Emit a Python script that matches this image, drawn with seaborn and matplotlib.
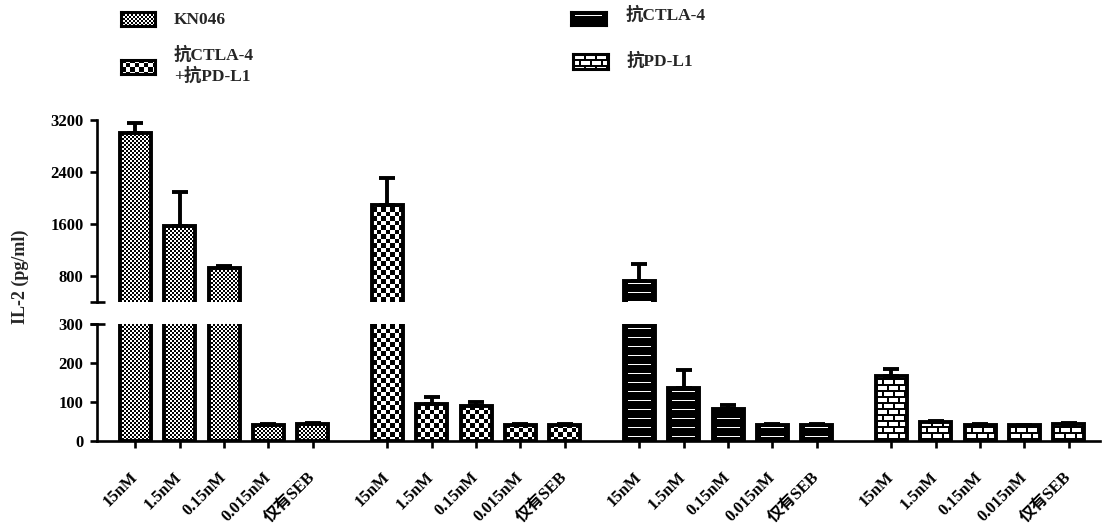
import numpy as np
import pandas as pd
import matplotlib
matplotlib.use("Agg")
import matplotlib.pyplot as plt
import seaborn as sns

sns.set_style("white")
plt.rcParams["font.family"] = ["Liberation Serif", "Noto Sans CJK SC"]
plt.rcParams["font.weight"] = "bold"

# ---- data -------------------------------------------------------------
treatments = ["KN046", "抗CTLA-4\n+抗PD-L1", "抗CTLA-4", "抗PD-L1"]
doses = ["15nM", "1.5nM", "0.15nM", "0.015nM", "仅有SEB"]

kn046_mean = [3000, 1570, 925, 42, 44]
kn046_sem = [150, 515, 25, 2, 2]
combo_mean = [1890, 94, 89, 42, 42]
combo_sem = [413, 18, 10, 2, 2]
ctla4_mean = [723, 137, 83, 40, 42]
ctla4_sem = [254, 45, 9, 3, 2]
pdl1_mean = [167, 49, 42, 40, 43]
pdl1_sem = [18, 3, 2, 2, 2]

y_top_ticks = [800, 1600, 2400, 3200]
y_bot_ticks = [0, 100, 200, 300]

# ---- layout -------------------------------------------------------------
GROUP_STEP = 5.676     # distance between the first bars of neighbouring groups
BAR_W = 0.70
TOP_LIM = (400, 3200)
BOT_LIM = (0, 300)
X_LIM = (-0.863, 21.73)
patterns = ["fine", "coarse", "lines", "brick"]

means = [kn046_mean, combo_mean, ctla4_mean, pdl1_mean]
sems = [kn046_sem, combo_sem, ctla4_sem, pdl1_sem]
rows = []
for g, (name, mm, ss) in enumerate(zip(treatments, means, sems)):
    for i, (d, m, s) in enumerate(zip(doses, mm, ss)):
        rows.append(dict(treatment=name, dose=d, il2=m, sem=s,
                         pos=round(g * GROUP_STEP + i, 4), pattern=patterns[g]))
df = pd.DataFrame(rows)


def texture(kind, h, w, phase=0):
    """Grey-level texture (0 black, 1 white), row 0 at the top."""
    yy, xx = np.mgrid[0:h, 0:w]
    if kind == "fine":
        img = ((xx // 2 + (yy + phase) // 2) % 2).astype(float)
    elif kind == "coarse":
        img = ((np.floor(xx / 4.5) + np.floor((yy + phase) / 4.5)) % 2).astype(float)
    elif kind == "lines":
        img = np.zeros((h, w))
        img[((yy + phase) % 9 == 4) & (xx >= 4) & (xx < w - 4)] = 1.0
    else:  # brick
        r = (yy + phase) // 6
        within = (yy + phase) % 6
        shift = np.where(r % 2 == 0, 0, 5)
        joint = ((xx + shift) % 11) < 2
        img = np.ones((h, w))
        img[(within < 2) | joint] = 0.0
    return img


W_PX, H_PX = 1105, 526


def px_axes(left, top, right, bottom):
    """Axes placed on whole-pixel edges (measured from the top-left corner)."""
    return fig.add_axes([left / W_PX, (H_PX - bottom) / H_PX,
                         (right - left) / W_PX, (bottom - top) / H_PX])


fig = plt.figure(figsize=(W_PX / 100, H_PX / 100), dpi=100, facecolor="white")
AX_BOXES = [(97, 120, 1100, 302), (97, 324, 1100, 441)]
ax_top = px_axes(*AX_BOXES[0])
ax_bot = px_axes(*AX_BOXES[1])

# texture layer for the whole figure, placed pixel for pixel behind the axes
layer = np.zeros((H_PX, W_PX, 4))

LW = 2.8
SPINE_LW = 1.9
for ax, lim, (l, t, r, b) in ((ax_top, TOP_LIM, AX_BOXES[0]),
                              (ax_bot, BOT_LIM, AX_BOXES[1])):
    sns.barplot(data=df, x="pos", y="il2", hue="treatment", hue_order=treatments,
                palette=["white"] * 4, native_scale=True, dodge=False,
                width=BAR_W, errorbar=None, legend=False, ax=ax,
                edgecolor="black", linewidth=LW)
    ax.set_xlim(*X_LIM)
    ax.set_ylim(*lim)
    ax.set_facecolor("none")

    for patch in list(ax.patches):
        x0, w, h = patch.get_x(), patch.get_width(), patch.get_height()
        cx = x0 + w / 2
        row = df.iloc[(df["pos"] - cx).abs().argmin()]
        patch.set_facecolor("none")
        patch.set_zorder(2)
        if h <= lim[0]:
            continue
        (px0, py_top), (px1, py_bot) = ax.transData.transform([(x0, h), (x0 + w, 0)])
        c0, c1 = max(l, int(round(px0))), min(r, int(round(px1)))
        r0 = max(t, int(round(H_PX - py_top)))
        r1 = min(b, int(round(H_PX - py_bot)))
        if r1 <= r0 or c1 <= c0:
            continue
        tex = texture(row["pattern"], r1 - r0, c1 - c0, phase=r0)
        layer[r0:r1, c0:c1, :3] = tex[..., None]
        layer[r0:r1, c0:c1, 3] = 1.0

    # upward SEM bars
    ax.errorbar(df["pos"], df["il2"], yerr=[np.zeros(len(df)), df["sem"]],
                fmt="none", ecolor="black", elinewidth=LW, capsize=5.5,
                capthick=LW, zorder=3)
    ax.set_xlim(*X_LIM)
    ax.set_ylim(*lim)
    ax.set_xlabel("")
    ax.set_ylabel("")
    for side in ("top", "right"):
        ax.spines[side].set_visible(False)
    ax.spines["left"].set_linewidth(SPINE_LW)
    ax.spines["left"].set_color("black")
    ax.tick_params(axis="y", direction="out", length=5.2, width=SPINE_LW,
                   labelsize=12, pad=4.5, colors="black", left=True)

fig.figimage(layer, xo=0, yo=0, origin="upper", zorder=-1)

ax_top.spines["bottom"].set_visible(False)
ax_top.set_xticks([])
ax_top.set_yticks(y_top_ticks)
ax_top.set_yticklabels([str(v) for v in y_top_ticks], fontweight="bold")

ax_bot.spines["bottom"].set_linewidth(SPINE_LW)
ax_bot.spines["bottom"].set_color("black")
ax_bot.set_yticks(y_bot_ticks)
ax_bot.set_yticklabels([str(v) for v in y_bot_ticks], fontweight="bold")
ax_bot.set_xticks(df["pos"])
ax_bot.set_xticklabels(df["dose"], rotation=45, ha="right", va="center",
                       rotation_mode="anchor", fontsize=12, fontweight="bold")
ax_bot.tick_params(axis="x", direction="out", length=5.2, width=SPINE_LW,
                   pad=19, colors="black", bottom=True)

# axis-break marks on the y axis
ax_px = 1003
for ax, yv in ((ax_top, 0), (ax_bot, 1)):
    ax.plot([-7 / ax_px, 8 / ax_px], [yv, yv], transform=ax.transAxes,
            color="black", lw=SPINE_LW, clip_on=False, solid_capstyle="butt")

fig.text(20 / W_PX, 1 - 277 / H_PX, "IL-2 (pg/ml)", rotation=90, ha="center",
         va="center", fontsize=13, fontweight="bold")

# legend: swatches drawn with the same textures as the bars
legend_items = [
    (treatments[0], "fine", (121, 12, 155, 26), (174, 19.5), 0),
    (treatments[1], "coarse", (121, 60, 155, 74), (174, 65.5), 2),
    (treatments[2], "lines", (571, 12, 606, 25), (626, 15), 1),
    (treatments[3], "brick", (573, 54, 608, 69), (627, 61), 1),
]
for label, kind, (l, t, r, b), (tx, ty), phase in legend_items:
    sax = px_axes(l, t, r, b)
    sax.imshow(texture(kind, b - t, r - l, phase), cmap="gray",
               vmin=0, vmax=1, interpolation="nearest", aspect="auto")
    sax.set_xticks([])
    sax.set_yticks([])
    for sp in sax.spines.values():
        sp.set_linewidth(2.2)
        sp.set_color("black")
    fig.text(tx / W_PX, 1 - ty / H_PX, label, ha="left", va="center",
             fontsize=12.5, fontweight="bold", linespacing=1.25)

fig.savefig("out.png", dpi=100)
